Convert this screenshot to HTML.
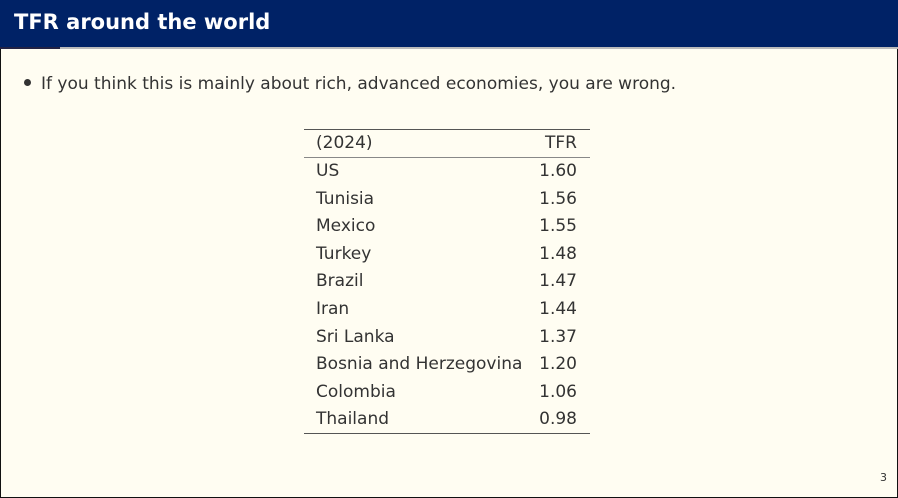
<!DOCTYPE html>
<html><head><meta charset="utf-8">
<style>
html,body{margin:0;padding:0;}
body{width:898px;height:498px;position:relative;overflow:hidden;background:#fffdf2;font-family:"DejaVu Sans","Liberation Sans",sans-serif;color:#333;}
#frame{position:absolute;left:0;top:0;width:896px;height:496px;border:1px solid #111;}
#hdr{position:absolute;left:0;top:0;width:898px;height:47px;background:#002266;}
#hdr span{position:absolute;left:14px;top:10px;color:#fff;font-size:21px;font-weight:bold;}
#hl{position:absolute;left:0;top:47px;width:898px;height:2px;background:#bbb;}
#hl2{position:absolute;left:0;top:47px;width:60px;height:2px;background:#224;}
#bullet{position:absolute;left:24px;top:74px;font-size:17px;color:#333;}
#bullet b{display:inline-block;width:7px;height:7px;border-radius:50%;background:#333;margin-right:10px;vertical-align:middle;position:relative;top:-2px;}
.rule{position:absolute;left:304px;width:286px;background:#555;}
.cell{position:absolute;font-size:17px;color:#333;line-height:20px;}
#pg{position:absolute;left:880px;top:471px;font-size:11px;color:#333;}
</style></head><body>
<div id="frame"></div>
<div id="hdr"><span>TFR around the world</span></div>
<div id="hl"></div>
<div id="hl2"></div>
<div id="bullet"><b></b>If you think this is mainly about rich, advanced economies, you are wrong.</div>
<div class="rule" style="top:129px;height:1px"></div>
<div class="rule" style="top:157px;height:1px;background:#888"></div>
<div class="rule" style="top:433px;height:1px"></div>
<div class="cell" style="left:316px;top:133px">(2024)</div>
<div class="cell" style="right:321px;top:133px">TFR</div>
<div id="rows"></div>
<div id="pg">3</div>
<script>
const countries=["US","Tunisia","Mexico","Turkey","Brazil","Iran","Sri Lanka","Bosnia and Herzegovina","Colombia","Thailand"];
const tfr=["1.60","1.56","1.55","1.48","1.47","1.44","1.37","1.20","1.06","0.98"];
const rows=document.getElementById('rows');
countries.forEach(function(c,i){
  const top=161+i*27.6;
  const a=document.createElement('div');
  a.className='cell';a.style.left='316px';a.style.top=top+'px';a.textContent=c;
  
  
  rows.appendChild(a);
  const b=document.createElement('div');
  b.className='cell';b.style.right='321px';b.style.top=top+'px';b.textContent=tfr[i];
  
  
  rows.appendChild(b);
});
</script>
</body></html>
